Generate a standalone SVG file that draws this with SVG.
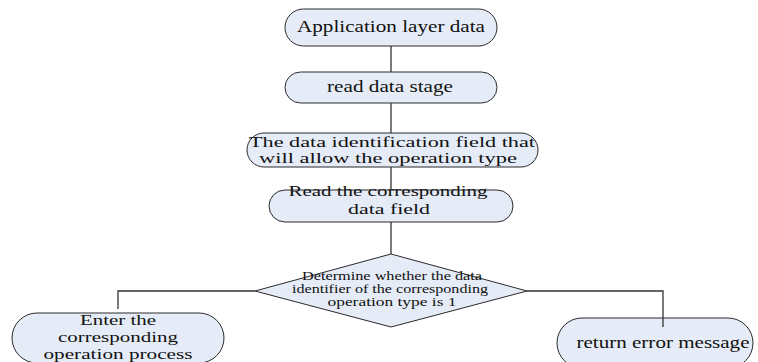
<svg xmlns="http://www.w3.org/2000/svg" width="758" height="362" viewBox="0 0 758 362">
<style>
.n{fill:#e6ecf7;stroke:#2a2a2a;stroke-width:1}
.t{font-family:"Liberation Serif","Times New Roman",serif;font-size:17px;fill:#111;text-anchor:middle}
.m{font-family:"Liberation Serif","Times New Roman",serif;font-size:15px;fill:#111;text-anchor:middle}
.s{font-family:"Liberation Serif","Times New Roman",serif;font-size:11.5px;fill:#111;text-anchor:middle}
.c{fill:none;stroke:#333;stroke-width:1.3}
</style>
<rect width="758" height="362" fill="#fff"/>
<g id="n1"><rect class="n" x="285" y="9" width="212" height="37" rx="18.5"/>
<text class="t" x="391" y="32" textLength="188" lengthAdjust="spacingAndGlyphs">Application layer data</text></g>
<g id="n2"><rect class="n" x="285" y="72" width="212" height="31" rx="15.5"/>
<text class="t" x="390" y="92" textLength="126" lengthAdjust="spacingAndGlyphs">read data stage</text></g>
<g id="n3"><rect class="n" x="247" y="133" width="291" height="34" rx="17"/>
<text class="m" x="392" y="147" textLength="286" lengthAdjust="spacingAndGlyphs">The data identification field that</text>
<text class="m" x="388" y="163" textLength="258" lengthAdjust="spacingAndGlyphs">will allow the operation type</text></g>
<g id="n4"><rect class="n" x="269" y="190" width="244" height="32" rx="16"/>
<text class="m" x="388" y="196" textLength="199" lengthAdjust="spacingAndGlyphs">Read the corresponding</text>
<text class="m" x="389" y="214" textLength="82" lengthAdjust="spacingAndGlyphs">data field</text></g>
<g id="n5"><polygon class="n" points="255,291 391,254 527,291 391,327"/>
<text class="s" x="392" y="280" textLength="180" lengthAdjust="spacingAndGlyphs">Determine whether the data</text>
<text class="s" x="390" y="293" textLength="196" lengthAdjust="spacingAndGlyphs">identifier of the corresponding</text>
<text class="s" x="392" y="306" textLength="129" lengthAdjust="spacingAndGlyphs">operation type is 1</text></g>
<g id="n6"><rect class="n" x="12" y="313" width="212" height="50" rx="25"/>
<text class="m" x="118" y="325" textLength="76" lengthAdjust="spacingAndGlyphs">Enter the</text>
<text class="m" x="118" y="342" textLength="120" lengthAdjust="spacingAndGlyphs">corresponding</text>
<text class="m" x="118" y="359" textLength="149" lengthAdjust="spacingAndGlyphs">operation process</text></g>
<g id="n7"><rect class="n" x="557" y="318" width="196" height="50" rx="25"/>
<text class="t" x="663" y="348" textLength="173" lengthAdjust="spacingAndGlyphs">return error message</text></g>
<g id="connectors">
<line class="c" x1="391" y1="46" x2="391" y2="72"/>
<line class="c" x1="391" y1="103" x2="391" y2="133"/>
<line class="c" x1="391" y1="167" x2="391" y2="190"/>
<line class="c" x1="391" y1="222" x2="391" y2="254"/>
<polyline class="c" points="255,291 118,291 118,309"/>
<polyline class="c" points="527,291 663,291 663,327"/>
</g>
</svg>
